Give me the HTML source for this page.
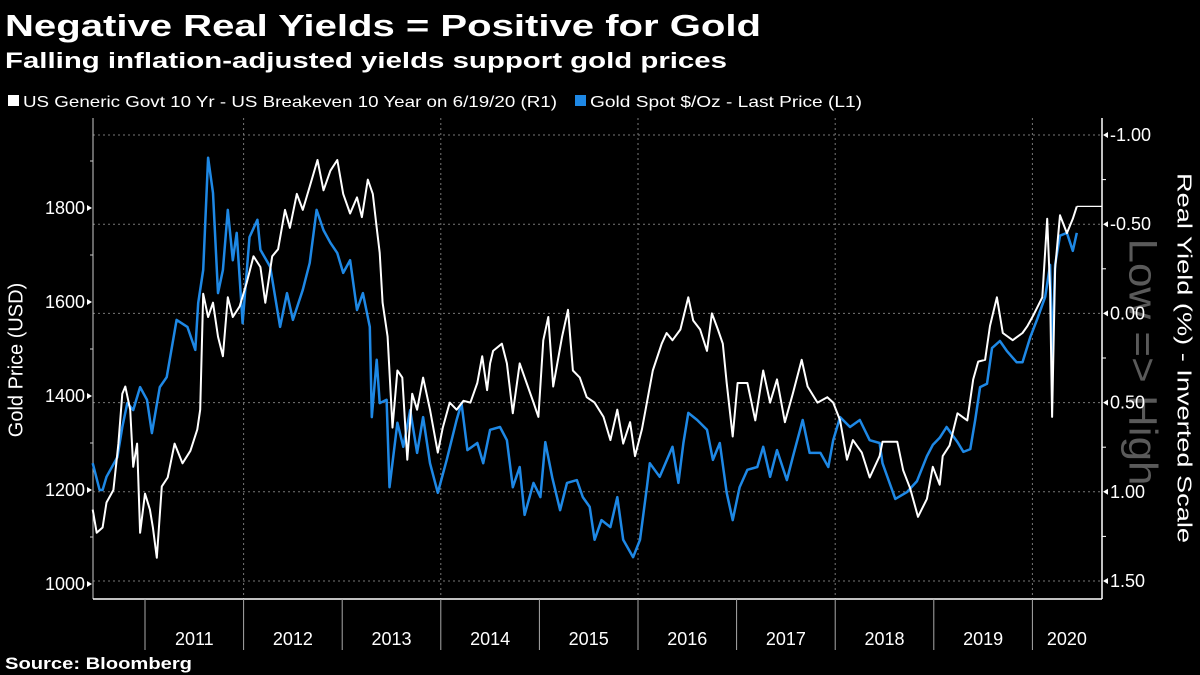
<!DOCTYPE html>
<html><head><meta charset="utf-8"><style>
html,body{margin:0;padding:0;background:#000;}
svg{display:block;font-family:"Liberation Sans","DejaVu Sans",sans-serif;}
</style></head><body>
<svg id="chart" width="1200" height="675" viewBox="0 0 1200 675">
<rect x="0" y="0" width="1200" height="675" fill="#000"/>
<text x="5" y="36" font-size="31" font-weight="bold" fill="#fff" textLength="756" lengthAdjust="spacingAndGlyphs">Negative Real Yields = Positive for Gold</text>
<text x="5" y="68" font-size="22" font-weight="bold" fill="#fff" textLength="722" lengthAdjust="spacingAndGlyphs">Falling inflation-adjusted yields support gold prices</text>
<g>
<g>
<rect x="8" y="95" width="11" height="11" fill="#fff"/>
<text x="23" y="107" font-size="16" fill="#fff" textLength="534" lengthAdjust="spacingAndGlyphs">US Generic Govt 10 Yr - US Breakeven 10 Year on 6/19/20 (R1)</text>
</g>
<g>
<rect x="575" y="95" width="11" height="11" fill="#1e88e5"/>
<text x="590" y="107" font-size="16" fill="#fff" textLength="272" lengthAdjust="spacingAndGlyphs">Gold Spot $/Oz - Last Price (L1)</text>
</g>
</g>
<text x="1140" y="362" font-size="40" fill="#5a5a5a" text-anchor="middle" dominant-baseline="middle" transform="rotate(90 1140 362)" textLength="247" lengthAdjust="spacingAndGlyphs">Low =&gt; High</text>
<g id="grid"></g>
<g id="axes"></g>
<g id="series"></g>
<text x="17" y="360" font-size="20" fill="#fff" text-anchor="middle" dominant-baseline="middle" transform="rotate(-90 17 360)">Gold Price (USD)</text>
<text x="1183" y="358" font-size="20" fill="#fff" text-anchor="middle" dominant-baseline="middle" transform="rotate(90 1183 358)" textLength="370" lengthAdjust="spacingAndGlyphs">Real Yield (%) - Inverted Scale</text>
<text x="5" y="669" font-size="17" font-weight="bold" fill="#fff" textLength="187" lengthAdjust="spacingAndGlyphs">Source: Bloomberg</text>
</svg>
<script>
const goldDates=[2010.47,2010.54,2010.57,2010.61,2010.72,2010.77,2010.82,2010.88,2010.95,2011.02,2011.07,2011.15,2011.22,2011.32,2011.43,2011.51,2011.54,2011.59,2011.64,2011.69,2011.74,2011.79,2011.84,2011.89,2011.93,2011.99,2012.06,2012.14,2012.17,2012.27,2012.37,2012.44,2012.50,2012.60,2012.67,2012.74,2012.81,2012.88,2012.95,2013.01,2013.08,2013.15,2013.21,2013.28,2013.30,2013.35,2013.38,2013.45,2013.48,2013.56,2013.62,2013.69,2013.76,2013.82,2013.89,2013.97,2014.06,2014.16,2014.21,2014.27,2014.37,2014.43,2014.50,2014.60,2014.67,2014.73,2014.80,2014.85,2014.94,2015.01,2015.06,2015.13,2015.21,2015.28,2015.38,2015.44,2015.51,2015.56,2015.63,2015.72,2015.79,2015.85,2015.95,2016.02,2016.09,2016.12,2016.22,2016.35,2016.41,2016.46,2016.51,2016.60,2016.70,2016.76,2016.83,2016.90,2016.96,2017.03,2017.11,2017.21,2017.27,2017.34,2017.41,2017.51,2017.57,2017.67,2017.74,2017.85,2017.93,2017.98,2018.05,2018.15,2018.25,2018.35,2018.45,2018.48,2018.61,2018.73,2018.83,2018.93,2018.99,2019.06,2019.13,2019.24,2019.30,2019.37,2019.42,2019.47,2019.54,2019.59,2019.67,2019.74,2019.84,2019.90,2019.98,2020.05,2020.13,2020.18,2020.20,2020.23,2020.28,2020.35,2020.41,2020.45];
const goldValues=[1257,1200,1200,1228,1270,1334,1385,1370,1419,1392,1321,1419,1440,1562,1547,1498,1598,1668,1907,1832,1619,1668,1796,1689,1747,1555,1738,1775,1711,1675,1547,1619,1562,1626,1683,1796,1753,1726,1704,1662,1689,1583,1619,1547,1355,1477,1385,1392,1206,1343,1292,1370,1279,1355,1257,1194,1264,1349,1385,1285,1300,1257,1328,1334,1306,1206,1249,1147,1215,1185,1302,1227,1157,1215,1221,1185,1164,1094,1136,1121,1185,1094,1057,1094,1206,1257,1228,1292,1215,1300,1364,1349,1328,1264,1300,1194,1136,1206,1243,1249,1292,1228,1285,1221,1270,1349,1279,1279,1249,1306,1355,1334,1349,1306,1300,1257,1181,1196,1219,1272,1296,1311,1334,1302,1281,1287,1349,1419,1426,1502,1517,1496,1472,1472,1526,1564,1611,1679,1479,1679,1741,1747,1709,1747];
const yieldDates=[2010.47,2010.51,2010.57,2010.61,2010.68,2010.73,2010.77,2010.80,2010.85,2010.88,2010.92,2010.95,2011.00,2011.05,2011.08,2011.12,2011.17,2011.23,2011.30,2011.38,2011.46,2011.53,2011.56,2011.59,2011.64,2011.69,2011.74,2011.79,2011.84,2011.89,2011.96,2012.03,2012.10,2012.17,2012.22,2012.29,2012.35,2012.42,2012.47,2012.54,2012.60,2012.67,2012.75,2012.81,2012.88,2012.95,2013.01,2013.08,2013.15,2013.20,2013.26,2013.31,2013.35,2013.38,2013.41,2013.46,2013.51,2013.56,2013.61,2013.66,2013.71,2013.76,2013.82,2013.89,2013.97,2014.02,2014.09,2014.16,2014.23,2014.30,2014.37,2014.42,2014.47,2014.50,2014.53,2014.62,2014.67,2014.73,2014.80,2014.87,2014.94,2014.99,2015.04,2015.09,2015.14,2015.23,2015.29,2015.34,2015.41,2015.48,2015.56,2015.65,2015.72,2015.79,2015.85,2015.92,2015.97,2016.04,2016.09,2016.15,2016.24,2016.29,2016.35,2016.43,2016.51,2016.56,2016.63,2016.70,2016.75,2016.81,2016.86,2016.90,2016.96,2017.01,2017.11,2017.19,2017.27,2017.34,2017.41,2017.49,2017.57,2017.66,2017.72,2017.82,2017.92,2017.98,2018.05,2018.12,2018.18,2018.27,2018.35,2018.45,2018.48,2018.63,2018.69,2018.76,2018.84,2018.93,2018.99,2019.06,2019.09,2019.16,2019.24,2019.34,2019.40,2019.45,2019.52,2019.57,2019.64,2019.70,2019.80,2019.90,2019.95,2020.01,2020.10,2020.15,2020.18,2020.20,2020.23,2020.28,2020.35,2020.41,2020.45];
const yieldValues=[1.10,1.23,1.20,1.06,0.99,0.73,0.45,0.41,0.54,0.86,0.73,1.23,1.01,1.10,1.20,1.37,0.97,0.92,0.73,0.84,0.77,0.65,0.54,-0.11,0.02,-0.06,0.13,0.24,-0.09,0.02,-0.04,-0.17,-0.32,-0.26,-0.06,-0.32,-0.36,-0.58,-0.48,-0.67,-0.58,-0.71,-0.86,-0.69,-0.80,-0.86,-0.67,-0.56,-0.65,-0.54,-0.75,-0.67,-0.48,-0.34,-0.06,0.13,0.64,0.32,0.36,0.82,0.45,0.54,0.36,0.54,0.78,0.64,0.50,0.54,0.49,0.50,0.39,0.24,0.43,0.28,0.21,0.17,0.28,0.56,0.28,0.39,0.50,0.58,0.15,0.02,0.41,0.13,-0.02,0.32,0.36,0.47,0.50,0.58,0.71,0.54,0.73,0.61,0.80,0.65,0.50,0.32,0.17,0.11,0.15,0.09,-0.09,0.04,0.09,0.21,0.00,0.09,0.17,0.39,0.69,0.39,0.39,0.60,0.32,0.50,0.37,0.61,0.45,0.26,0.41,0.50,0.47,0.50,0.60,0.82,0.71,0.78,0.92,0.80,0.72,0.72,0.88,0.98,1.14,1.04,0.86,0.96,0.80,0.74,0.56,0.60,0.37,0.27,0.26,0.07,-0.09,0.11,0.15,0.11,0.07,0.01,-0.09,-0.53,-0.13,0.58,-0.25,-0.55,-0.45,-0.53,-0.60];
const goldTicks=[1000,1100,1200,1300,1400,1500,1600,1700,1800,1900];
const goldTickLabels=["1000","","1200","","1400","","1600","","1800",""];
const yieldTicks=[-1.0,-0.75,-0.5,-0.25,0,0.25,0.5,0.75,1.0,1.25,1.5];
const yieldTickLabels=["-1.00","","-0.50","","0.00","","0.50","","1.00","","1.50"];
const yearBoundaries=[2011,2012,2013,2014,2015,2016,2017,2018,2019,2020];
const yearLabels=["2011","2012","2013","2014","2015","2016","2017","2018","2019","2020"];

const NS="http://www.w3.org/2000/svg";
const L=93,R=1102,T=118,B=599;
function xScale(t){return 145+(t-2011)*98.6;}
function yGold(v){return 584-(v-1000)*0.47;}
function yYield(v){return 135+(v+1)*178.4;}
function mk(tag,attrs,parent){const e=document.createElementNS(NS,tag);for(const k in attrs)e.setAttribute(k,attrs[k]);parent.appendChild(e);return e;}
const grid=document.getElementById('grid'),axes=document.getElementById('axes'),series=document.getElementById('series');

// horizontal gridlines at labelled right ticks
yieldTicks.forEach((v,i)=>{if(!yieldTickLabels[i])return;const y=yYield(v);
 const g=mk('line',{x1:L,x2:R,y1:y,y2:y,stroke:'#777','stroke-width':1,'stroke-dasharray':'2,3'},grid);
 
 });
// vertical gridlines every 2 years
[2012,2014,2016,2018,2020].forEach(yr=>{const x=xScale(yr);
 const g=mk('line',{x1:x,x2:x,y1:T,y2:B,stroke:'#777','stroke-width':1,'stroke-dasharray':'2,3'},grid);
 
 });

// axes lines
let a=mk('line',{x1:L,x2:L,y1:T,y2:B,stroke:'#ccc','stroke-width':1},axes);


a=mk('line',{x1:R,x2:R,y1:T,y2:B,stroke:'#fff','stroke-width':1.5},axes);


a=mk('line',{x1:L,x2:R,y1:B,y2:B,stroke:'#fff','stroke-width':1.5},axes);



goldTicks.forEach((v,i)=>{const y=yGold(v);
 if(goldTickLabels[i]){
  const p=mk('path',{d:`M${L-1} ${y} l-5 -3 v6 z`,fill:'#fff'},axes);
  
  
  const t=mk('text',{x:L-8,y:y+6,'font-size':18,fill:'#fff','text-anchor':'end'},axes);
  t.textContent=goldTickLabels[i];
  
  
 } else {
  const p=mk('line',{x1:L-3,x2:L,y1:y,y2:y,stroke:'#ccc'},axes);
  
  
 }});
yieldTicks.forEach((v,i)=>{const y=yYield(v);
 if(yieldTickLabels[i]){
  const p=mk('path',{d:`M${R+1} ${y} l5 -3 v6 z`,fill:'#fff'},axes);
  
  
  const t=mk('text',{x:R+8,y:y+6,'font-size':18,fill:'#fff'},axes);
  t.textContent=yieldTickLabels[i];
  
  
 } else {
  const p=mk('line',{x1:R,x2:R+4,y1:y,y2:y,stroke:'#fff'},axes);
  
  
 }});
yearBoundaries.forEach((yr,i)=>{const x=xScale(yr);
 const l=mk('line',{x1:x,x2:x,y1:B,y2:650,stroke:'#aaa','stroke-width':1},axes);
 
 
 const next=i<yearBoundaries.length-1?xScale(yearBoundaries[i+1]):xScale(2020.7);
 const t=mk('text',{x:(x+next)/2,y:645,'font-size':18,fill:'#fff','text-anchor':'middle'},axes);
 t.textContent=yearLabels[i];
 
 });

function pathFrom(dates,vals,ys){return dates.map((d,i)=>(i?'L':'M')+xScale(d).toFixed(1)+' '+ys(vals[i]).toFixed(1)).join(' ');}
const gp=mk('path',{d:pathFrom(goldDates,goldValues,yGold),fill:'none',stroke:'#1e88e5','stroke-width':2.5,'stroke-linejoin':'round'},series);


const yp=mk('path',{d:pathFrom(yieldDates,yieldValues,yYield),fill:'none',stroke:'#fff','stroke-width':2,'stroke-linejoin':'round'},series);


const lastIdx=yieldDates.length-1;
const lx=xScale(yieldDates[lastIdx]),ly=yYield(yieldValues[lastIdx]);
const ll=mk('path',{d:`M${lx} ${ly} L${lx+3} ${ly} L${R} ${ly}`,fill:'none',stroke:'#fff','stroke-width':1.2},series);


</script>
</body></html>
